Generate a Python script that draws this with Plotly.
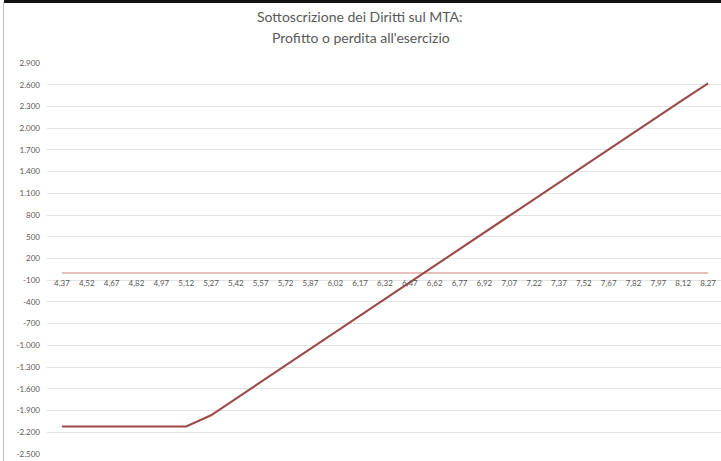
import plotly.graph_objects as go

categories = ["4,37", "4,52", "4,67", "4,82", "4,97", "5,12", "5,27", "5,42", "5,57",
              "5,72", "5,87", "6,02", "6,17", "6,32", "6,47", "6,62", "6,77", "6,92",
              "7,07", "7,22", "7,37", "7,52", "7,67", "7,82", "7,97", "8,12", "8,27"]
profit = [-2120, -2120, -2120, -2120, -2120, -2120, -1965, -1735, -1505,
          -1275, -1045, -815, -590, -360, -130, 100, 330, 560,
          790, 1020, 1250, 1475, 1705, 1935, 2165, 2395, 2620]
y_ticks = [-2500, -2200, -1900, -1600, -1300, -1000, -700, -400, -100,
           200, 500, 800, 1100, 1400, 1700, 2000, 2300, 2600, 2900]
y_tick_labels = ["-2.500", "-2.200", "-1.900", "-1.600", "-1.300", "-1.000", "-700", "-400", "-100",
                 "200", "500", "800", "1.100", "1.400", "1.700", "2.000", "2.300", "2.600", "2.900"]
title_lines = ["Sottoscrizione dei Diritti sul MTA:", "Profitto o perdita all'esercizio"]

W, H = 721, 461
ML, MR, MT, MB = 47, 0, 63, 7
PW, PH = W - ML - MR, H - MT - MB
YMIN, YMAX = -2500, 2900

def py(p):  # pixel from top -> paper y
    return (H - MB - p) / PH

def px(p):  # pixel from left -> paper x
    return (p - ML) / PW

font = "Lato, 'Open Sans', sans-serif"
grey = "#595959"

fig = go.Figure()
fig.add_trace(go.Scatter(
    x=categories, y=profit, mode="lines",
    line=dict(color="#9c4a47", width=2.1),
    showlegend=False, cliponaxis=False,
))

shapes = [
    # horizontal axis line at zero, spanning first to last category
    dict(type="line", xref="x", yref="y", x0=categories[0], x1=categories[-1], y0=0, y1=0,
         line=dict(color="#e2aaa6", width=1.6), layer="below"),
    # cropped chart frame: top black edge, left grey edge
    dict(type="rect", xref="paper", yref="paper", x0=px(4), x1=px(W), y0=py(3), y1=py(0),
         line=dict(width=0), fillcolor="#111111", layer="above"),
    dict(type="line", xref="paper", yref="paper", x0=px(3.5), x1=px(3.5), y0=py(2), y1=py(H),
         line=dict(color="#c4c4c4", width=1.2)),
]

annotations = [
    dict(text=title_lines[0], xref="paper", yref="paper", x=px(360), y=py(17),
         showarrow=False, font=dict(family=font, size=14, color=grey), xanchor="center", yanchor="middle"),
    dict(text=title_lines[1], xref="paper", yref="paper", x=px(361), y=py(38),
         showarrow=False, font=dict(family=font, size=14, color=grey), xanchor="center", yanchor="middle"),
]

fig.update_layout(
    width=W, height=H,
    margin=dict(l=ML, r=MR, t=MT, b=MB, pad=0, autoexpand=False),
    paper_bgcolor="white", plot_bgcolor="white",
    font=dict(family=font, size=8, color=grey),
    shapes=shapes, annotations=annotations,
    xaxis=dict(
        type="category", range=[-0.6, len(categories) - 1 + 0.52],
        showgrid=False, zeroline=False, showline=False, ticks="",
        anchor="free", position=(0 - YMIN) / (YMAX - YMIN), automargin=False,
        tickfont=dict(family=font, size=8, color=grey), tickangle=0, ticklabelstandoff=4,
    ),
    yaxis=dict(
        range=[YMIN, YMAX], tickvals=y_ticks, ticktext=y_tick_labels, automargin=False,
        showgrid=True, gridcolor="#e3e3e3", gridwidth=1,
        zeroline=False, showline=False, ticks="",
        tickfont=dict(family=font, size=8, color=grey), ticklabelstandoff=6,
    ),
)

fig.write_html("out.html", config={"displayModeBar": False},
               post_script="document.body.style.margin='0';document.body.style.overflow='hidden';")
